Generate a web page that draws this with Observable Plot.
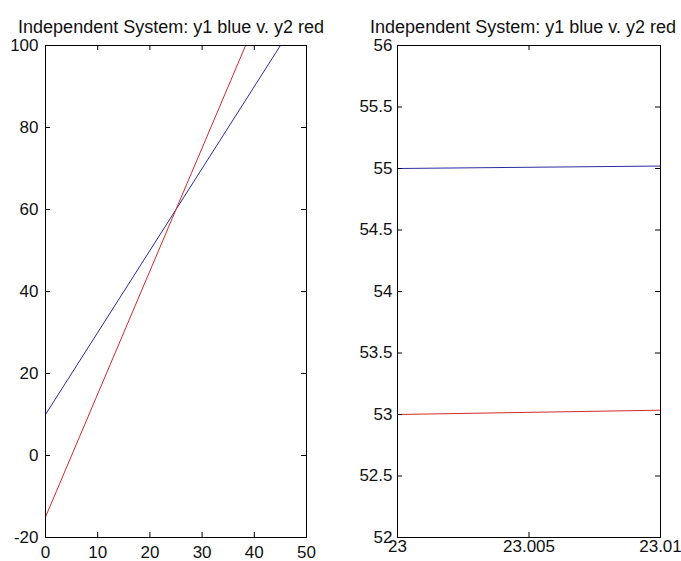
<!DOCTYPE html>
<html>
<head>
<meta charset="utf-8">
<script src="https://cdn.jsdelivr.net/npm/d3@7"></script>
<script src="https://cdn.jsdelivr.net/npm/@observablehq/plot@0.6"></script>
<style>
  html, body { margin: 0; padding: 0; background: #fff; }
  #wrap { position: relative; width: 681px; height: 561px; overflow: hidden; background: #fff; }
  #wrap svg { position: absolute; top: 0; overflow: visible; }
</style>
</head>
<body>
<div id="wrap"></div>
<script>
const titleText = "Independent System: y1 blue v. y2 red";

// Left panel
const leftX = [0, 50];
const leftY1 = [10, 110];   // blue
const leftY2 = [-15, 135];  // red
const leftXTicks = [0, 10, 20, 30, 40, 50];
const leftYTicks = [-20, 0, 20, 40, 60, 80, 100];

// Right panel (zoom)
const rightX = [23, 23.01];
const rightY1 = [55, 55.02];   // blue
const rightY2 = [53, 53.035];  // red
const rightXTicks = [23, 23.005, 23.01];
const rightYTicks = [52, 52.5, 53, 53.5, 54, 54.5, 55, 55.5, 56];

const BLUE = "#2b2ba0";
const RED = "#d42a2a";
const FONT = "Arial, 'Liberation Sans', Helvetica, sans-serif";

function panel({xs, y1, y2, xTicks, yTicks, width, height, mL, mR, mT, mB, xPad, yPad, titleDx}) {
  const innerW = width - mL - mR;
  const innerH = height - mT - mB;
  const tick = 5;
  const s1 = xs.map((x, i) => ({x, y: y1[i]}));
  const s2 = xs.map((x, i) => ({x, y: y2[i]}));
  const fmt = d => String(d);
  return Plot.plot({
    width, height,
    marginLeft: mL, marginRight: mR, marginTop: mT, marginBottom: mB,
    style: {fontFamily: FONT, fontSize: "17px", color: "#000", background: "transparent", overflow: "visible"},
    x: {domain: [xTicks[0], xTicks[xTicks.length - 1]]},
    y: {domain: [yTicks[0], yTicks[yTicks.length - 1]]},
    marks: [
      Plot.line(s1, {x: "x", y: "y", stroke: BLUE, strokeWidth: 1, clip: true}),
      Plot.line(s2, {x: "x", y: "y", stroke: RED, strokeWidth: 1, clip: true}),
      // inward ticks, all four sides
      Plot.ruleX(xTicks, {x: d => d, insetTop: innerH - tick, stroke: "#000"}),
      Plot.ruleX(xTicks, {x: d => d, insetBottom: innerH - tick, stroke: "#000"}),
      Plot.ruleY(yTicks, {y: d => d, insetRight: innerW - tick, stroke: "#000"}),
      Plot.ruleY(yTicks, {y: d => d, insetLeft: innerW - tick, stroke: "#000"}),
      Plot.frame({stroke: "#000", strokeWidth: 1}),
      Plot.axisX(xTicks, {anchor: "bottom", tickSize: 0, tickPadding: xPad, tickFormat: fmt, label: null, fill: "#111"}),
      Plot.axisY(yTicks, {anchor: "left", tickSize: 0, tickPadding: yPad, tickFormat: fmt, label: null, fill: "#111"}),
      Plot.text([titleText], {frameAnchor: "top", text: d => d, dy: -13, dx: titleDx, lineAnchor: "bottom", fontSize: 18, fill: "#111"})
    ]
  });
}

const wrap = document.getElementById("wrap");

const left = panel({
  xs: leftX, y1: leftY1, y2: leftY2, xTicks: leftXTicks, yTicks: leftYTicks,
  width: 340, height: 561, mL: 45, mR: 34, mT: 45, mB: 24, xPad: 8, yPad: 7, titleDx: -5
});
left.style.left = "0px";
wrap.appendChild(left);

const right = panel({
  xs: rightX, y1: rightY1, y2: rightY2, xTicks: rightXTicks, yTicks: rightYTicks,
  width: 341, height: 561, mL: 57, mR: 21, mT: 45, mB: 24, xPad: 2, yPad: 5, titleDx: -6
});
right.style.left = "340px";
wrap.appendChild(right);
</script>
</body>
</html>
